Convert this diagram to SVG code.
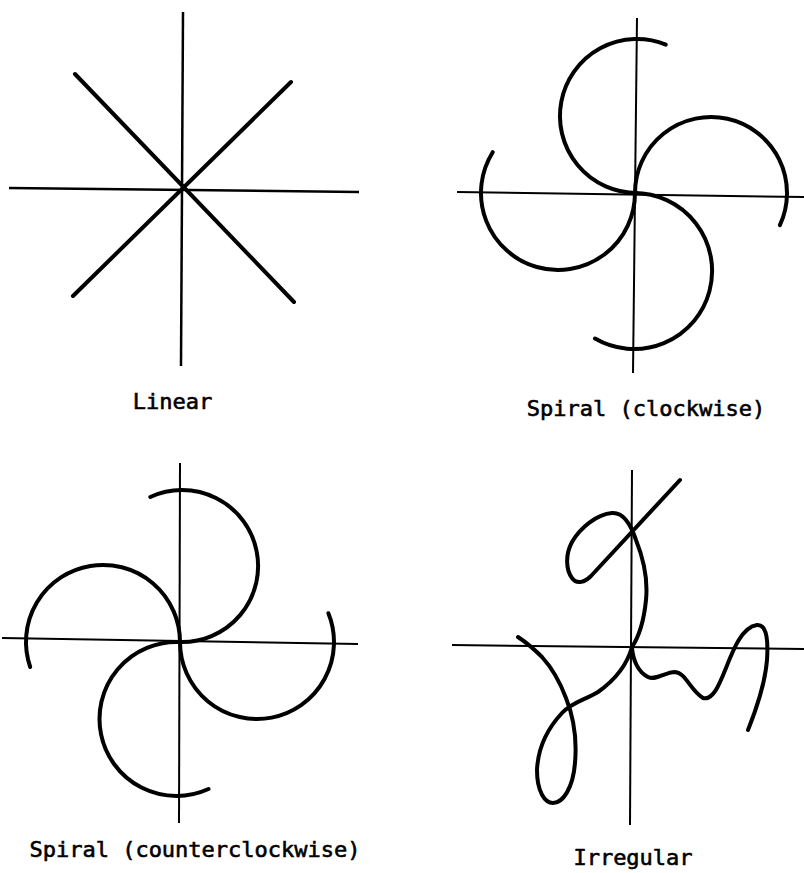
<svg xmlns="http://www.w3.org/2000/svg" width="804" height="873" viewBox="0 0 804 873">
<style>
.axis{stroke:#000;stroke-width:2;fill:none;stroke-linecap:butt}
.curve{stroke:#000;stroke-width:4;fill:none;stroke-linecap:round;stroke-linejoin:round}
.lbl{font-family:"DejaVu Sans Mono","Liberation Mono",monospace;font-size:22px;fill:#000;stroke:#000;stroke-width:0.6;text-anchor:middle}
</style>
<rect width="804" height="873" fill="#fff"/>
<g id="linear">
<line class="axis" x1="183" y1="12" x2="181" y2="366" style="stroke-width:2.5"/>
<line class="axis" x1="9" y1="188" x2="359" y2="192" style="stroke-width:2.5"/>
<line class="curve" x1="75" y1="74" x2="294" y2="302"/>
<line class="curve" x1="291" y1="82" x2="73" y2="296"/>
<text class="lbl" x="172.5" y="409">Linear</text>
</g>
<g id="spiral-clockwise">
<line class="axis" x1="637" y1="18" x2="633" y2="373"/>
<line class="axis" x1="457" y1="192" x2="804" y2="197"/>
<path class="curve" d="M637,193 A77,77 0 1 1 665.8,44.6"/>
<path class="curve" d="M635,193 A76,76 0 1 1 779.9,225.1"/>
<path class="curve" d="M634,193 A78,78 0 1 1 595,338.5"/>
<path class="curve" d="M635,193 A77,77 0 1 1 492.7,152.2"/>
<text class="lbl" x="646" y="416">Spiral (clockwise)</text>
</g>
<g id="spiral-counterclockwise">
<line class="axis" x1="180" y1="463" x2="179" y2="823"/>
<line class="axis" x1="2" y1="638" x2="358" y2="644"/>
<path class="curve" d="M180,642 A76,76 0 1 0 150.3,497"/>
<path class="curve" d="M180,642 A77,77 0 1 0 30.2,667"/>
<path class="curve" d="M180,642 A77,77 0 1 0 328.4,613.2"/>
<path class="curve" d="M179,642 A77,77 0 1 0 208.5,789"/>
<text class="lbl" x="195" y="857">Spiral (counterclockwise)</text>
</g>
<g id="irregular">
<line class="axis" x1="632" y1="470" x2="630" y2="825"/>
<line class="axis" x1="452" y1="645" x2="804" y2="649"/>
<path class="curve" d="M680,480 L591,576 C585,582 577,585 572,578 C566,570 565,555 572,542 C580,528 597,514 612,513 C624,512 631,525 636,540 C644,560 648,580 646,600 C644,620 640,635 632,647 C627,665 615,680 598,692 C585,700 572,702 562,713 C548,728 538,748 537,770 C537,792 545,803 553,803 C563,803 573,788 575,763 C577,740 574,718 566,698 C560,682 552,668 542,657 C535,650 527,643 518,637"/>
<path class="curve" d="M632,648 C633,660 638,672 648,677 C656,681 665,672 675,672 C686,673 690,690 703,698 C713,701 720,683 726,668 C733,650 742,627 757,625 C768,624 768,645 767,660 C765,685 756,710 748,730"/>
<text class="lbl" x="633" y="865">Irregular</text>
</g>
</svg>
